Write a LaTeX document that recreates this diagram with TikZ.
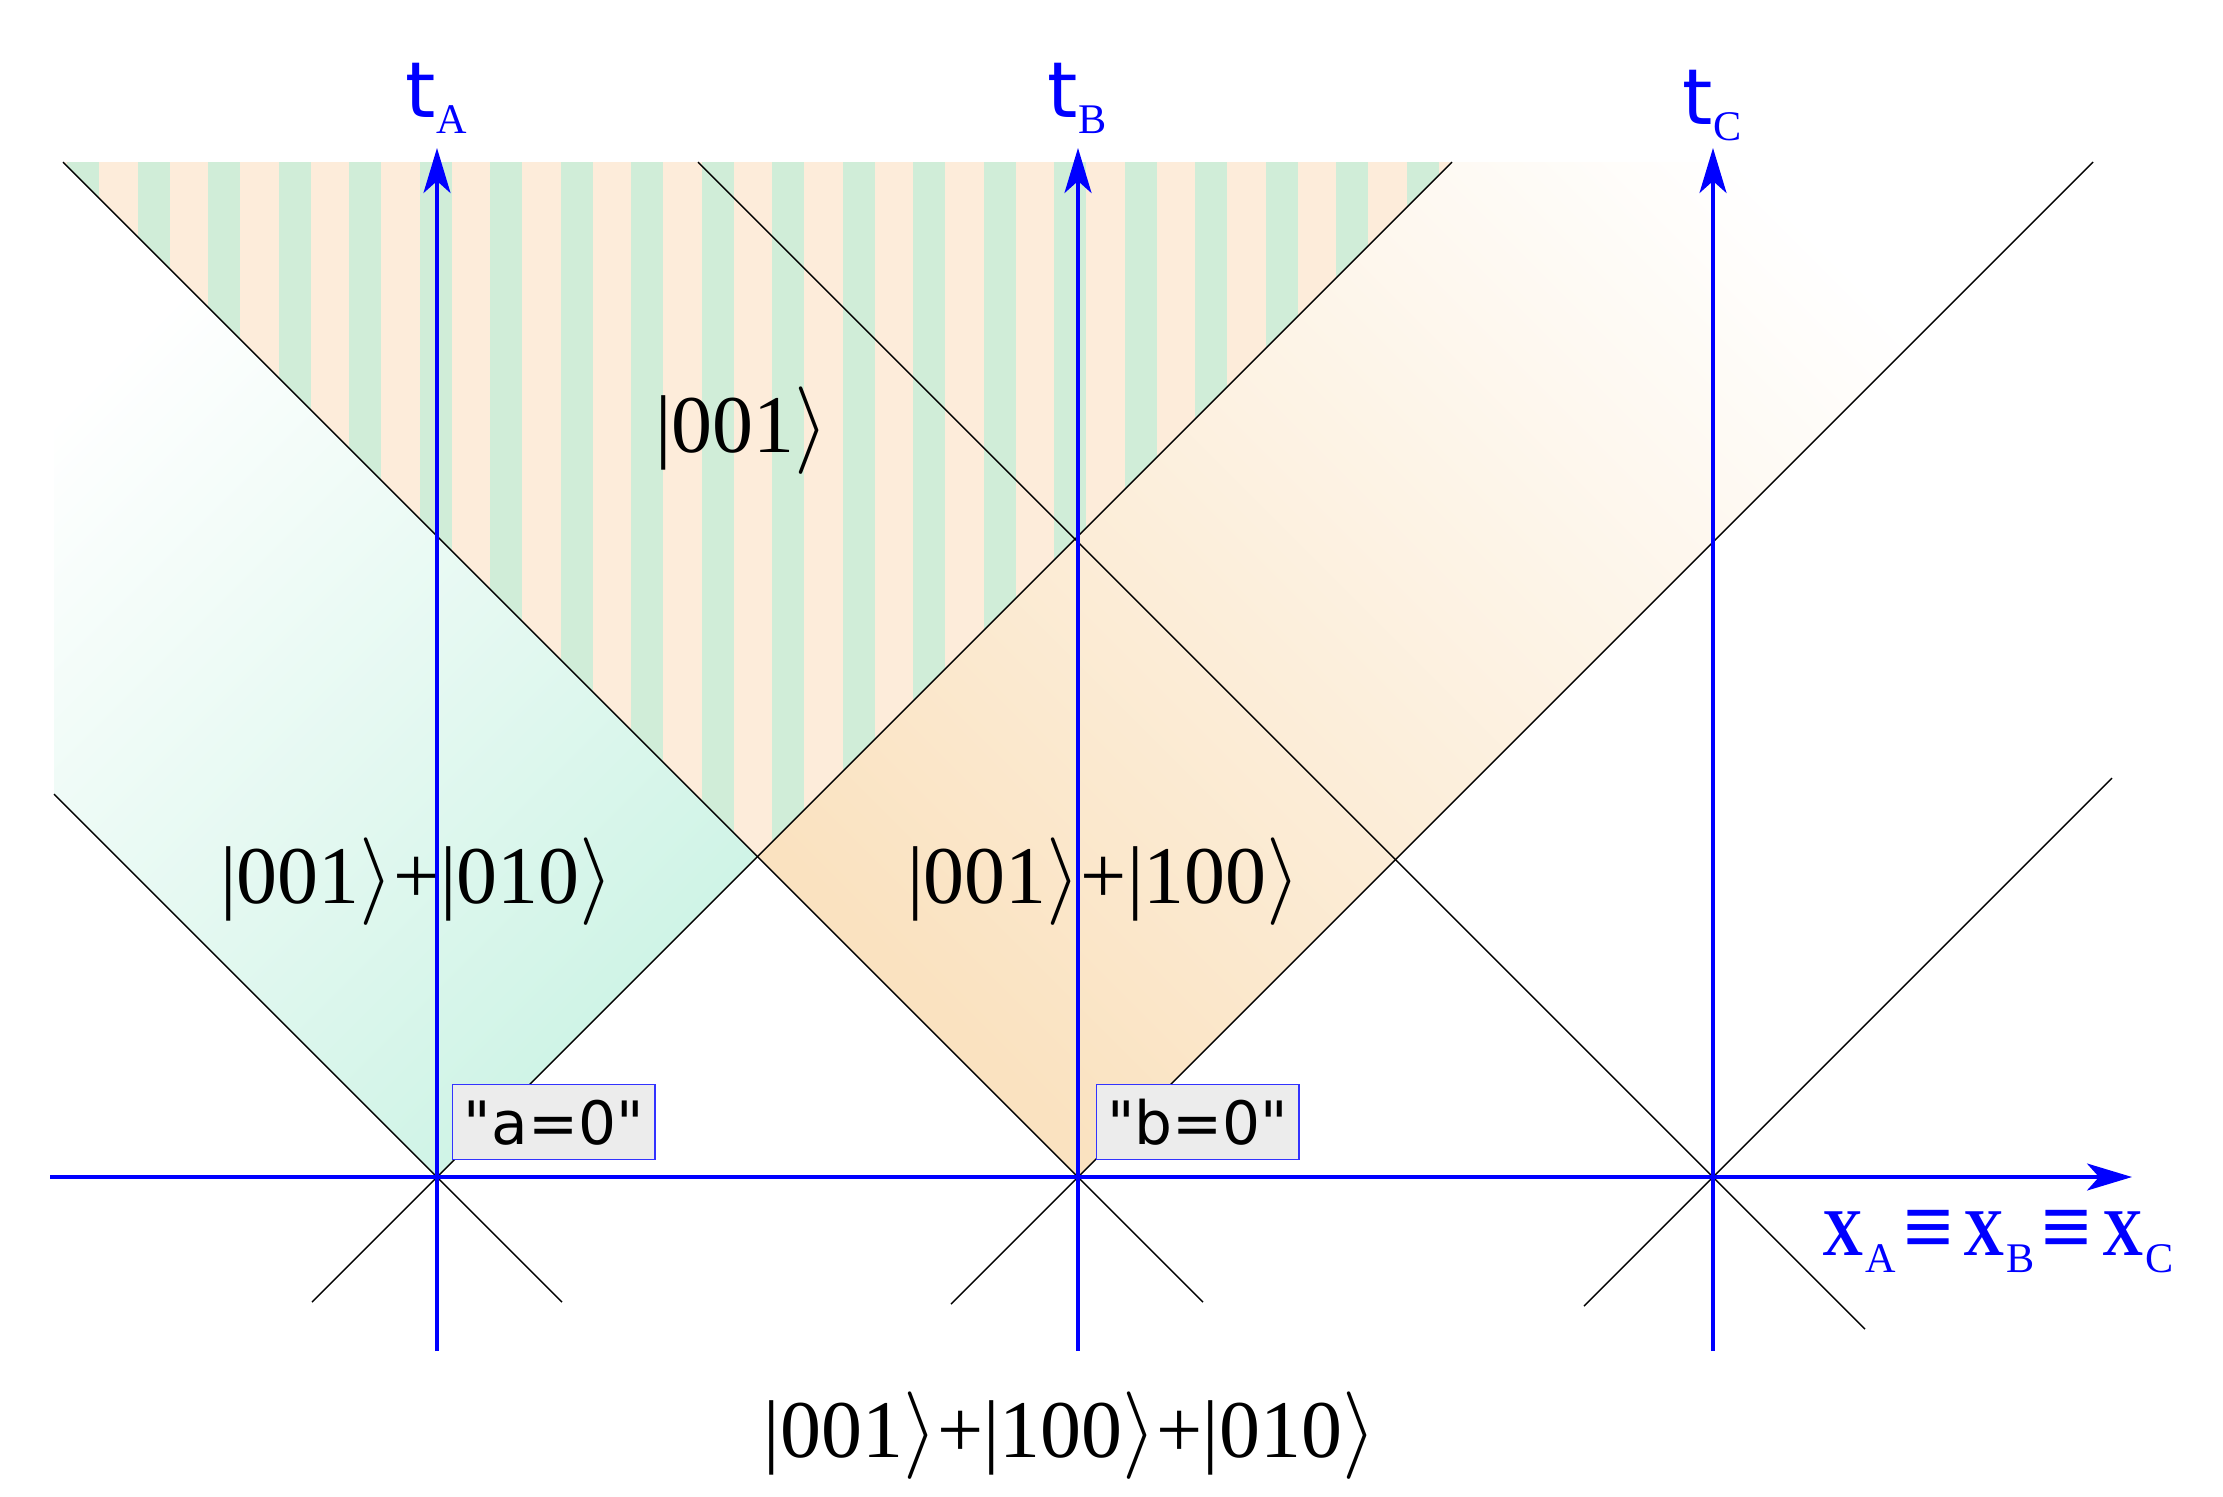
\documentclass[tikz,border=0pt]{standalone}
\usepackage{fontspec}
\setmainfont{Liberation Serif}
\newfontfamily\tfont{DejaVu Sans}
\newfontfamily\boxfont{DejaVu Sans}
\usepackage{tikz}
\usetikzlibrary{arrows.meta, calc, positioning}
\definecolor{mint}{RGB}{205,243,229}
\definecolor{peach}{RGB}{250,226,192}
\definecolor{stripeA}{RGB}{253,236,218}
\definecolor{stripeB}{RGB}{208,237,216}
\definecolor{boxgray}{RGB}{236,236,236}
\tikzstyle{cone} = [black, line width=0.4pt]
\tikzstyle{axis} = [blue, line width=0.9pt, -{Stealth[length=0.45cm, width=0.27cm, inset=0.12cm]}]
\tikzstyle{zerobox} = [draw=blue!80, fill=boxgray, line width=0.4pt, minimum width=2.02cm, minimum height=0.75cm, inner sep=0pt, font=\boxfont\fontsize{17}{20}\selectfont]
\tikzstyle{state} = [font=\fontsize{23.3}{27}\selectfont, inner sep=0pt]
\tikzstyle{axlabel} = [text=blue, inner sep=0pt, anchor=base west]
\newcommand{\tlabel}[1]{{\tfont\fontsize{22}{26}\selectfont t}\raisebox{-0.16cm}{\fontsize{12}{14}\selectfont #1}}
\newcommand{\xsub}[1]{\scalebox{0.85}[1]{\bfseries\fontsize{19}{22}\selectfont X}\hspace{0.02cm}\raisebox{-0.17cm}{\fontsize{12}{14}\selectfont #1}}
\newcommand{\idsym}{\scalebox{1.05}[1]{\bfseries\fontsize{24}{26}\selectfont ≡}}
\newcommand{\ket}[1]{|#1$\rangle$}
\begin{document}
\begin{tikzpicture}[x=0.01cm, y=-0.01cm]
	\useasboundingbox (0,0) rectangle (2223,1496);
	\coordinate (oA) at (437,1177);
	\coordinate (oB) at (1078,1177);
	\coordinate (oC) at (1713,1177);
	\coordinate (pAB) at (757.5,856.5);
	\shade[top color=white, bottom color=mint, shading angle=45] (oA) -- (54,794) -- (54,162) -- (63,162) -- (pAB) -- cycle;
	\shade[top color=white, bottom color=peach, shading angle=-45] (oB) -- (pAB) -- (1452,162) -- (2093,162) -- cycle;
	\begin{scope}
		\clip (pAB) -- (63,162) -- (1452,162) -- cycle;
		\fill[stripeA] (pAB) -- (63,162) -- (1452,162) -- cycle;
		\foreach \k in {0,...,19}
			\fill[stripeB] ({67+70.5*\k},150) rectangle ++(32,720);
	\end{scope}
	\draw[cone] (oA) -- ++(-383,-383);
	\draw[cone] (oA) -- ++(1015,-1015);
	\draw[cone] (oA) -- ++(-125,125);
	\draw[cone] (oA) -- ++(125,125);
	\draw[cone] (oB) -- ++(-1015,-1015);
	\draw[cone] (oB) -- ++(1015,-1015);
	\draw[cone] (oB) -- ++(-127,127);
	\draw[cone] (oB) -- ++(125,125);
	\draw[cone] (oC) -- ++(-1015,-1015);
	\draw[cone] (oC) -- ++(399,-399);
	\draw[cone] (oC) -- ++(-129,129);
	\draw[cone] (oC) -- ++(152,152);
	\draw[axis] (50,1177) -- (2132,1177);
	\foreach \o in {A,B,C}
		\draw[axis] ($(o\o)+(0,174)$) -- ($(o\o)+(0,-1029)$);
	\node[axlabel] (tA) at (405,117) {\tlabel{A}};
	\node[axlabel] (tB) at (1047,117) {\tlabel{B}};
	\node[axlabel] (tC) at (1682,124) {\tlabel{C}};
	\node[axlabel] (xlab) at (1822,1255) {\xsub{A}\hspace{0.07cm}\idsym\hspace{0.10cm}\xsub{B}\hspace{0.07cm}\idsym\hspace{0.10cm}\xsub{C}};
	\node[zerobox, anchor=north west] (boxA) at (452,1084) {"a=0"};
	\node[zerobox, anchor=north west] (boxB) at (1096,1084) {"b=0"};
	\node[state, anchor=base] (s1) at (742,452) {\ket{001}};
	\node[state, anchor=base] (s2) at (417,903) {\ket{001}+\ket{010}};
	\node[state, anchor=base] (s3) at (1104,903) {\ket{001}+\ket{100}};
	\node[state, anchor=base] (s4) at (1070,1457) {\ket{001}+\ket{100}+\ket{010}};
\end{tikzpicture}
\end{document}
